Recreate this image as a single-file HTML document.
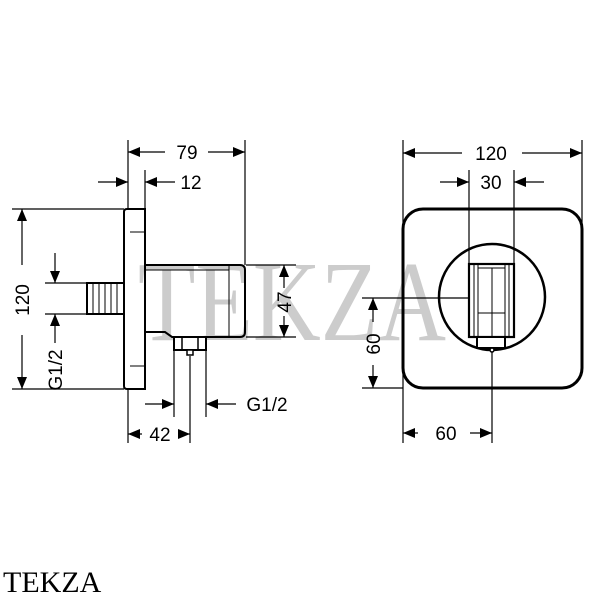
<!DOCTYPE html>
<html><head><style>html,body{margin:0;padding:0;background:#fff;}svg{display:block}</style></head>
<body>
<svg width="600" height="600" viewBox="0 0 600 600" xmlns="http://www.w3.org/2000/svg">
<defs>
<marker id="a" viewBox="0 0 12 10" refX="12" refY="5" markerWidth="12" markerHeight="10" markerUnits="userSpaceOnUse" orient="auto-start-reverse">
<path d="M0,0 L12,5 L0,10 z" fill="#000"/>
</marker>
</defs>
<text x="138" y="340" font-family="'Liberation Serif',serif" font-size="114" fill="#999" fill-opacity="0.5" textLength="308" lengthAdjust="spacingAndGlyphs">TEKZA</text>
<g stroke="#000" stroke-width="1.2" fill="none">
<line x1="128" y1="140" x2="128" y2="209"/>
<line x1="245" y1="140" x2="245" y2="265"/>
<line x1="128" y1="152" x2="165" y2="152" marker-start="url(#a)"/>
<line x1="208" y1="152" x2="245" y2="152" marker-end="url(#a)"/>
<line x1="145" y1="170" x2="145" y2="209"/>
<line x1="98" y1="182" x2="128" y2="182" marker-end="url(#a)"/>
<line x1="175" y1="182" x2="145" y2="182" marker-end="url(#a)"/>
<line x1="12" y1="209" x2="124" y2="209"/>
<line x1="12" y1="389" x2="124" y2="389"/>
<line x1="22" y1="209" x2="22" y2="265" marker-start="url(#a)"/>
<line x1="22" y1="335" x2="22" y2="389" marker-end="url(#a)"/>
<line x1="45" y1="283" x2="87" y2="283"/>
<line x1="45" y1="314" x2="87" y2="314"/>
<line x1="55" y1="253" x2="55" y2="283" marker-end="url(#a)"/>
<line x1="55" y1="343" x2="55" y2="314" marker-end="url(#a)"/>
<line x1="246" y1="265" x2="296" y2="265"/>
<line x1="246" y1="337" x2="296" y2="337"/>
<line x1="284" y1="265" x2="284" y2="288" marker-start="url(#a)"/>
<line x1="284" y1="316" x2="284" y2="337" marker-end="url(#a)"/>
<line x1="174" y1="350" x2="174" y2="417"/>
<line x1="206" y1="350" x2="206" y2="417"/>
<line x1="145" y1="404" x2="174" y2="404" marker-end="url(#a)"/>
<line x1="236" y1="404" x2="206" y2="404" marker-end="url(#a)"/>
<line x1="128" y1="389" x2="128" y2="443"/>
<line x1="190" y1="356" x2="190" y2="443"/>
<line x1="128" y1="434" x2="142" y2="434" marker-start="url(#a)"/>
<line x1="178" y1="434" x2="190" y2="434" marker-end="url(#a)"/>
<line x1="403" y1="140" x2="403" y2="443"/>
<line x1="582" y1="140" x2="582" y2="275"/>
<line x1="403" y1="153" x2="462" y2="153" marker-start="url(#a)"/>
<line x1="522" y1="153" x2="582" y2="153" marker-end="url(#a)"/>
<line x1="469" y1="170" x2="469" y2="264"/>
<line x1="514" y1="170" x2="514" y2="264"/>
<line x1="440" y1="182" x2="469" y2="182" marker-end="url(#a)"/>
<line x1="544" y1="182" x2="514" y2="182" marker-end="url(#a)"/>
<line x1="362" y1="298" x2="468" y2="298"/>
<line x1="362" y1="388" x2="403" y2="388"/>
<line x1="373" y1="298" x2="373" y2="322" marker-start="url(#a)"/>
<line x1="373" y1="365" x2="373" y2="388" marker-end="url(#a)"/>
<line x1="492" y1="352" x2="492" y2="443"/>
<line x1="403" y1="433" x2="418" y2="433" marker-start="url(#a)"/>
<line x1="470" y1="433" x2="492" y2="433" marker-end="url(#a)"/>
</g>
<g stroke="#000" fill="none">
<path d="M145,209 H127 Q124,209 124,212 V386 Q124,389 127,389 H145 Z" stroke-width="2"/>
<line x1="145" y1="209" x2="145" y2="389" stroke-width="1.2"/>
<line x1="130" y1="232" x2="145" y2="232" stroke-width="1"/>
<line x1="130" y1="366" x2="145" y2="366" stroke-width="1"/>
<rect x="87" y="283" width="37" height="31" stroke-width="2"/>
<g stroke-width="1"><line x1="93" y1="284" x2="93" y2="313"/><line x1="99" y1="284" x2="99" y2="313"/><line x1="105" y1="284" x2="105" y2="313"/><line x1="111" y1="284" x2="111" y2="313"/><line x1="117" y1="284" x2="117" y2="313"/></g>
<path d="M146,265 H240 Q245,265 245,270 V332 Q245,337 240,337 H172 L165,332 H146" stroke-width="2"/>
<line x1="146" y1="270" x2="229" y2="270" stroke-width="1"/>
<line x1="229" y1="265" x2="229" y2="337" stroke-width="1"/>
<rect x="174" y="337" width="32" height="13" stroke-width="2" fill="#fff"/>
<line x1="182" y1="337" x2="182" y2="350" stroke-width="1.5"/>
<line x1="198" y1="337" x2="198" y2="350" stroke-width="1.5"/>
<rect x="187" y="350" width="6" height="5" stroke-width="1.5" fill="#fff"/>
</g>
<g stroke="#000" fill="none">
<rect x="403" y="209" width="179" height="179" rx="20" stroke-width="3"/>
<circle cx="492" cy="297" r="53" stroke-width="2.5"/>
<rect x="469" y="264" width="45" height="73" stroke-width="2.2" fill="#fff"/>
<line x1="474" y1="264" x2="474" y2="337" stroke-width="1"/>
<line x1="478" y1="264" x2="478" y2="337" stroke-width="1"/>
<line x1="505" y1="264" x2="505" y2="337" stroke-width="1"/>
<line x1="509" y1="264" x2="509" y2="337" stroke-width="1"/>
<line x1="492" y1="268" x2="492" y2="337" stroke-width="1"/>
<line x1="478" y1="268" x2="505" y2="268" stroke-width="1"/>
<line x1="478" y1="313" x2="505" y2="313" stroke-width="1"/>
<rect x="477" y="337" width="28" height="11" stroke-width="2" fill="#fff"/>
<circle cx="492" cy="350" r="2" stroke-width="1.5" fill="#fff"/>
</g>
<g font-family="'Liberation Sans',sans-serif" font-size="19" fill="#000" text-anchor="middle">
<text x="187" y="159">79</text>
<text x="191" y="189">12</text>
<text x="160" y="441">42</text>
<text x="267" y="411">G1/2</text>
<text x="491" y="160">120</text>
<text x="491" y="189">30</text>
<text x="446" y="440">60</text>
<text transform="translate(29,300) rotate(-90)">120</text>
<text transform="translate(62,370) rotate(-90)">G1/2</text>
<text transform="translate(291,302) rotate(-90)">47</text>
<text transform="translate(380,344) rotate(-90)">60</text>
</g>
<text x="3" y="592" font-family="'Liberation Serif',serif" font-size="30" fill="#000">TEKZA</text>
</svg>
</body></html>
